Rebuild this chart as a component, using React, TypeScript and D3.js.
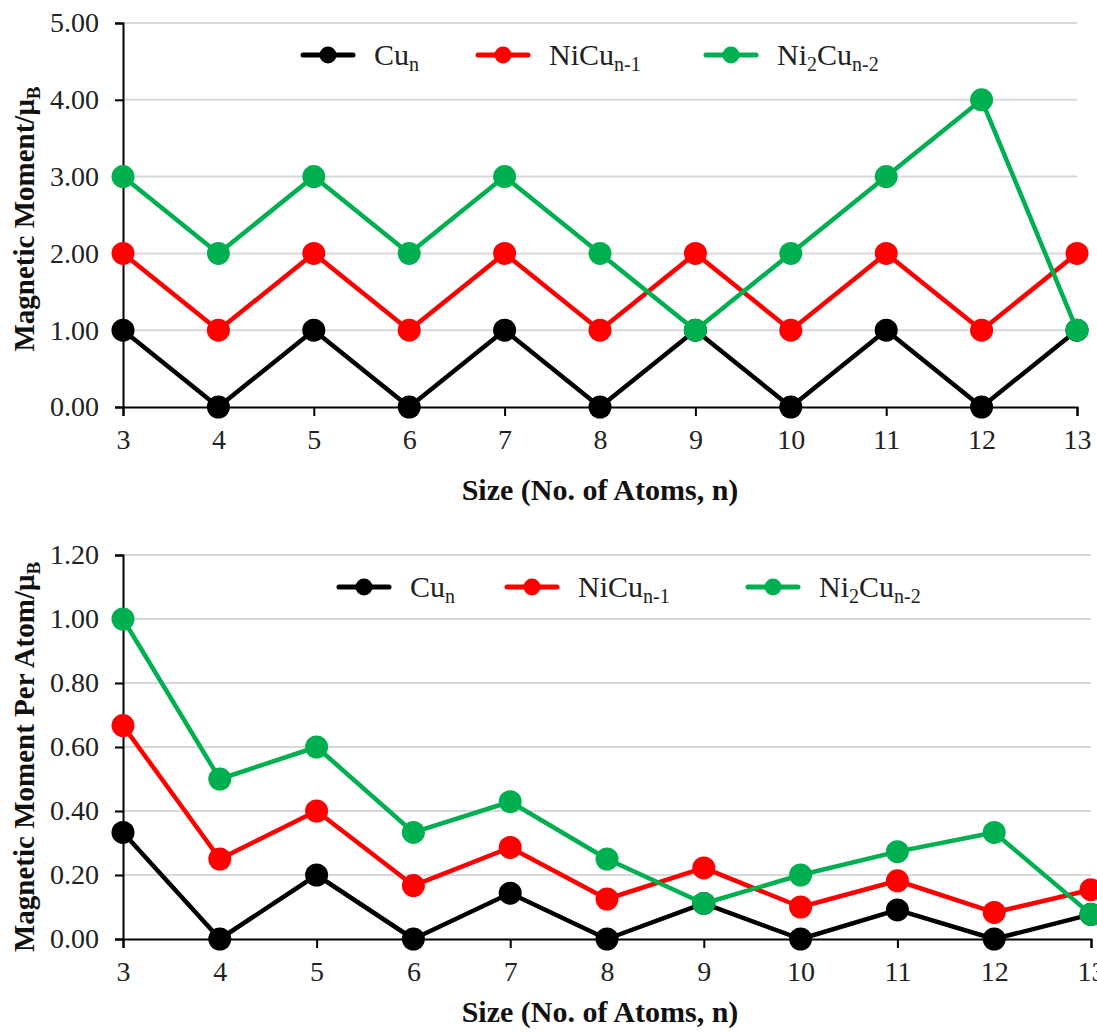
import React, { useEffect, useRef } from 'react';
import * as d3 from 'd3';

const sizes = [3, 4, 5, 6, 7, 8, 9, 10, 11, 12, 13];

// total moment (μB)
const cuTotal = [1, 0, 1, 0, 1, 0, 1, 0, 1, 0, 1];
const niCuTotal = [2, 1, 2, 1, 2, 1, 2, 1, 2, 1, 2];
const ni2CuTotal = [3, 2, 3, 2, 3, 2, 1, 2, 3, 4, 1];

// moment per atom (μB)
const cuPerAtom = [0.333, 0, 0.2, 0, 0.143, 0, 0.111, 0, 0.091, 0, 0.077];
const niCuPerAtom = [0.667, 0.25, 0.4, 0.167, 0.286, 0.125, 0.222, 0.1, 0.182, 0.083, 0.154];
const ni2CuPerAtom = [1.0, 0.5, 0.6, 0.333, 0.429, 0.25, 0.111, 0.2, 0.273, 0.333, 0.077];

const topTicks = [0, 1, 2, 3, 4, 5];
const bottomTicks = [0, 0.2, 0.4, 0.6, 0.8, 1.0, 1.2];

const seriesNames = [
  { base: 'Cu', sub1: 'n', mid: '', sub2: '' },
  { base: 'NiCu', sub1: 'n-1', mid: '', sub2: '' },
  { base: 'Ni', sub1: '2', mid: 'Cu', sub2: 'n-2' },
];
const colors = ['#000000', '#ff0000', '#00b050'];

const FONT = '"Liberation Serif", "Times New Roman", serif';

interface PanelCfg {
  top: number;
  bottom: number;
  right: number;
  yMax: number;
  ticks: number[];
  series: number[][];
  yTitle: string;
  yTitleCenter: number;
  xTitleOffset: number;
  legendX: number[];
  legendY: number;
}

export default function App() {
  const svgRef = useRef<SVGSVGElement>(null);

  useEffect(() => {
    if (!svgRef.current) return;
    const svg = d3.select(svgRef.current);
    svg.selectAll('*').remove();

    const left = 123;

    const panels: PanelCfg[] = [
      {
        top: 23, bottom: 407, right: 1077, yMax: 5, ticks: topTicks,
        series: [cuTotal, niCuTotal, ni2CuTotal],
        yTitle: 'Magnetic Moment/μ', yTitleCenter: 219, xTitleOffset: 93,
        legendX: [328, 503, 731], legendY: 55,
      },
      {
        top: 555, bottom: 939, right: 1091, yMax: 1.2, ticks: bottomTicks,
        series: [cuPerAtom, niCuPerAtom, ni2CuPerAtom],
        yTitle: 'Magnetic Moment Per Atom/μ', yTitleCenter: 757, xTitleOffset: 83,
        legendX: [364, 532, 773], legendY: 587,
      },
    ];

    panels.forEach(p => {
      const g = svg.append('g');
      const x = d3.scaleLinear().domain([3, 13]).range([left, p.right]);
      const y = d3.scaleLinear().domain([0, p.yMax]).range([p.bottom, p.top]);

      // gridlines
      g.append('g')
        .selectAll('line')
        .data(p.ticks.filter(t => t > 0))
        .join('line')
        .attr('x1', left).attr('x2', p.right)
        .attr('y1', d => y(d)).attr('y2', d => y(d))
        .attr('stroke', '#d9d9d9').attr('stroke-width', 2);

      // y axis
      const yAxis = g.append('g')
        .attr('transform', `translate(${left},0)`)
        .call(d3.axisLeft(y).tickValues(p.ticks).tickSize(8).tickPadding(16)
          .tickFormat(d => (d as number).toFixed(2)));
      yAxis.select('.domain').attr('stroke', '#000').attr('stroke-width', 2);
      yAxis.selectAll('line').attr('stroke', '#000').attr('stroke-width', 2);
      yAxis.selectAll('text')
        .attr('font-family', FONT).attr('font-size', 28).attr('fill', '#222');

      // x axis
      const xAxis = g.append('g')
        .attr('transform', `translate(0,${p.bottom})`)
        .call(d3.axisBottom(x).tickValues(sizes).tickSize(9).tickPadding(13)
          .tickFormat(d => String(d)));
      xAxis.select('.domain').attr('stroke', '#000').attr('stroke-width', 2);
      xAxis.selectAll('line').attr('stroke', '#000').attr('stroke-width', 2);
      xAxis.selectAll('text')
        .attr('font-family', FONT).attr('font-size', 28).attr('fill', '#222');

      // x title
      g.append('text')
        .attr('x', 600).attr('y', p.bottom + p.xTitleOffset)
        .attr('text-anchor', 'middle')
        .attr('font-family', FONT).attr('font-size', 30).attr('font-weight', 'bold')
        .attr('fill', '#111')
        .text('Size (No. of Atoms, n)');

      // y title
      const yt = g.append('text')
        .attr('transform', `translate(34,${p.yTitleCenter}) rotate(-90)`)
        .attr('text-anchor', 'middle')
        .attr('font-family', FONT).attr('font-size', 29).attr('font-weight', 'bold')
        .attr('fill', '#111');
      yt.append('tspan').text(p.yTitle);
      yt.append('tspan').attr('font-size', 19).attr('dy', 6).text('B');

      // series lines + markers
      const line = d3.line<number>()
        .x((_, i) => x(sizes[i]))
        .y(d => y(d));

      p.series.forEach((vals, si) => {
        const sg = g.append('g');
        sg.append('path')
          .datum(vals)
          .attr('fill', 'none')
          .attr('stroke', colors[si])
          .attr('stroke-width', 4.5)
          .attr('stroke-linejoin', 'round')
          .attr('d', line);
        sg.selectAll('circle')
          .data(vals)
          .join('circle')
          .attr('cx', (_, i) => x(sizes[i]))
          .attr('cy', d => y(d))
          .attr('r', 11.5)
          .attr('fill', colors[si]);
      });

      // legend
      seriesNames.forEach((s, si) => {
        const cx = p.legendX[si];
        const lg = g.append('g');
        lg.append('line')
          .attr('x1', cx - 25).attr('x2', cx + 25)
          .attr('y1', p.legendY).attr('y2', p.legendY)
          .attr('stroke', colors[si]).attr('stroke-width', 5)
          .attr('stroke-linecap', 'round');
        lg.append('circle')
          .attr('cx', cx).attr('cy', p.legendY).attr('r', 8.5)
          .attr('fill', colors[si]);
        const t = lg.append('text')
          .attr('x', cx + 46).attr('y', p.legendY + 10)
          .attr('font-family', FONT).attr('font-size', 30).attr('fill', '#222');
        t.append('tspan').text(s.base);
        t.append('tspan').attr('font-size', 20).attr('dy', 6).text(s.sub1);
        if (s.mid) {
          t.append('tspan').attr('dy', -6).text(s.mid);
          t.append('tspan').attr('font-size', 20).attr('dy', 6).text(s.sub2);
        }
      });
    });
  }, []);

  return (
    <div style={{ position: 'absolute', left: 0, top: 0, background: '#fff' }}>
      <svg ref={svgRef} width={1097} height={1032} style={{ display: 'block' }} />
    </div>
  );
}
